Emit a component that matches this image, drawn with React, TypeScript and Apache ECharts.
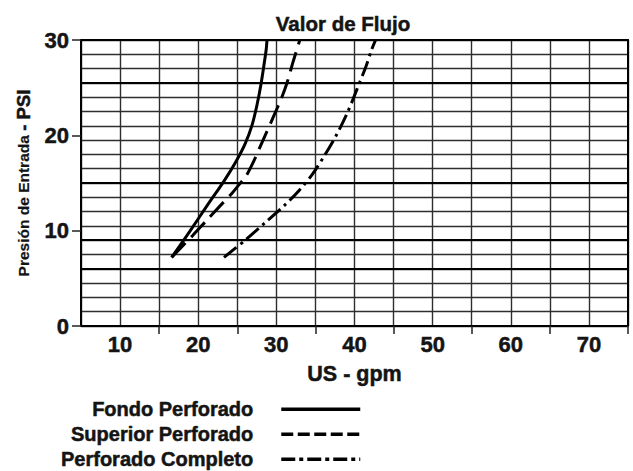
import React, { useEffect, useRef } from "react";
import * as echarts from "echarts";

// ---- data ----
const seriesNames = ["Fondo Perforado", "Superior Perforado", "Perforado Completo"];

// [US gpm, PSI]
const fondoPerforado: [number, number][] = [
  [16.6, 7.2], [18.9, 9.9], [21.2, 12.7], [23.3, 15.2], [24.8, 17.2], [26.0, 19.1],
  [26.9, 21.1], [27.5, 23.1], [28.0, 25.2], [28.4, 27.3], [28.7, 29.0], [28.8, 30.0],
];
const superiorPerforado: [number, number][] = [
  [16.6, 7.2], [18.0, 8.4], [19.3, 9.5], [21.1, 11.1], [22.8, 12.6], [24.3, 13.9],
  [25.2, 14.8], [26.1, 15.7], [27.0, 17.1], [28.3, 19.5], [29.6, 21.9], [30.7, 24.0],
  [31.4, 25.6], [32.1, 27.6], [33.0, 30.0],
];
const perforadoCompleto: [number, number][] = [
  [23.3, 7.2], [26.0, 9.0], [28.5, 10.8], [31.1, 12.7], [33.0, 14.3], [34.6, 15.9],
  [36.1, 17.8], [37.6, 19.9], [39.0, 22.2], [40.3, 24.8], [41.5, 27.3], [42.2, 29.0],
  [42.7, 30.0],
];

const xMin = 5;
const xMax = 75;
const xGridStep = 5;
const xLabelValues = [10, 20, 30, 40, 50, 60, 70];
const xTickValues = [15, 25, 35, 45, 55, 65, 75];

const yMin = 0;
const yMax = 30;
const yLabelStep = 10;
const yGridStep = 1.5;
const emphasizedGridY = [6, 9, 15, 25.5];

const titleText = "Valor de Flujo";
const xName = "US - gpm";
const yNameMain = "Presión de Entrada";
const yNameUnit = "- PSI";

// ---- styles ----
const FONT = "'Liberation Sans', Arial, Helvetica, sans-serif";
const INK = "#141414";
const GRID = "#2e2e2e";

const boldText = (size: number) => ({
  fontSize: size,
  fontWeight: "bold",
  color: INK,
  fontFamily: FONT,
  textBorderColor: INK,
  textBorderWidth: 0.5,
});

const lineDashes: (string | number[])[] = ["solid", [20, 8], [16, 5, 3, 5]];
const legendDashes: (string | number[])[] = ["solid", [12, 4.5], [14, 4, 4, 4]];
const legendTops = [399, 424, 449];

export default function App() {
  const ref = useRef<HTMLDivElement>(null);

  useEffect(() => {
    if (!ref.current) return;
    const chart = echarts.init(ref.current, undefined, { renderer: "svg" });
    const datasets = [fondoPerforado, superiorPerforado, perforadoCompleto];

    const option: any = {
      animation: false,
      textStyle: { fontFamily: FONT },
      title: {
        text: titleText,
        left: 343,
        textAlign: "center",
        top: 13,
        padding: 0,
        textStyle: boldText(20.5),
      },
      grid: { left: 81, top: 40, width: 547, height: 286 },
      xAxis: [
        {
          type: "value",
          min: xMin,
          max: xMax,
          position: "bottom",
          name: xName,
          nameLocation: "middle",
          nameGap: 37,
          nameTextStyle: boldText(21.5),
          axisLine: { show: true, onZero: false, lineStyle: { color: "#000", width: 2 } },
          axisTick: {
            show: true,
            customValues: xTickValues,
            length: 8,
            lineStyle: { color: "#222", width: 1.5 },
          },
          axisLabel: {
            show: true,
            customValues: xLabelValues,
            margin: 7,
            ...boldText(22),
          },
          splitLine: { show: false },
        },
        {
          type: "value",
          min: xMin,
          max: xMax,
          interval: xGridStep,
          position: "top",
          axisLine: { show: true, onZero: false, lineStyle: { color: "#000", width: 2 } },
          axisTick: { show: false },
          axisLabel: { show: false },
          splitLine: { show: true, lineStyle: { color: GRID, width: 1.4 } },
        },
      ],
      yAxis: [
        {
          type: "value",
          min: yMin,
          max: yMax,
          interval: yLabelStep,
          position: "left",
          name: `{a|${yNameMain}} {b|${yNameUnit}}`,
          nameLocation: "middle",
          nameRotate: 90,
          nameGap: 44,
          nameTextStyle: {
            color: INK,
            fontFamily: FONT,
            fontSize: 16,
            rich: {
              a: { ...boldText(15.5), textBorderWidth: 0.2 },
              b: boldText(18.5),
            },
          },
          axisLine: { show: true, onZero: false, lineStyle: { color: "#000", width: 2 } },
          axisTick: { show: true, length: 9, lineStyle: { color: "#222", width: 1.5 } },
          axisLabel: {
            show: true,
            margin: 12,
            ...boldText(22),
          },
          splitLine: { show: false },
        },
        {
          type: "value",
          min: yMin,
          max: yMax,
          interval: yGridStep,
          position: "right",
          axisLine: { show: true, onZero: false, lineStyle: { color: "#000", width: 2 } },
          axisTick: { show: false },
          axisLabel: { show: false },
          splitLine: { show: true, lineStyle: { color: GRID, width: 1.4 } },
        },
      ],
      legend: seriesNames.map((name, i) => ({
        data: [name],
        orient: "horizontal",
        right: 271,
        top: legendTops[i],
        padding: 0,
        align: "right",
        itemWidth: 79,
        itemHeight: 12,
        selectedMode: false,
        itemStyle: { color: "rgba(0,0,0,0)", borderColor: "rgba(0,0,0,0)", borderWidth: 0 },
        lineStyle: { color: "#000", width: 3.5, type: legendDashes[i] },
        textStyle: {
          ...boldText(20),
          padding: [0, 23, 8, 0],
        },
      })),
      series: seriesNames.map((name, i) => ({
        name,
        type: "line",
        xAxisIndex: 0,
        yAxisIndex: 0,
        data: datasets[i],
        smooth: 0.3,
        symbol: "none",
        showSymbol: false,
        silent: true,
        z: 5,
        lineStyle: { color: "#000", width: 3, type: lineDashes[i] },
        markLine:
          i === 0
            ? {
                silent: true,
                symbol: "none",
                label: { show: false },
                lineStyle: { color: "#000", width: 2, type: "solid" },
                data: emphasizedGridY.map((y) => ({ yAxis: y })),
              }
            : undefined,
      })),
    };

    chart.setOption(option);
    return () => chart.dispose();
  }, []);

  return <div ref={ref} style={{ width: 633, height: 471, position: "absolute", left: 0, top: 0 }} />;
}
